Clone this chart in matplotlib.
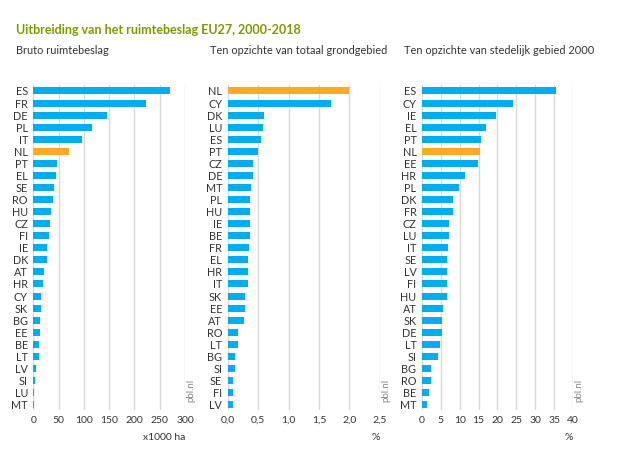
import matplotlib.pyplot as plt
from matplotlib.ticker import FuncFormatter

# Bruto ruimtebeslag (x1000 ha)
landen_bruto = ["ES", "FR", "DE", "PL", "IT", "NL", "PT", "EL", "SE", "RO", "HU", "CZ", "FI", "IE",
                "DK", "AT", "HR", "CY", "SK", "BG", "EE", "BE", "LT", "LV", "SI", "LU", "MT"]
bruto = [271, 223, 146, 116, 97, 70, 46, 44, 40, 38, 34.5, 33, 30, 26,
         26, 21.5, 19, 15.5, 14, 13.5, 12, 11.5, 10, 5.5, 2.3, 1.5, 0.3]

# Ten opzichte van totaal grondgebied (%)
landen_totaal = ["NL", "CY", "DK", "LU", "ES", "PT", "CZ", "DE", "MT", "PL", "HU", "IE", "BE", "FR",
                 "EL", "HR", "IT", "SK", "EE", "AT", "RO", "LT", "BG", "SI", "SE", "FI", "LV"]
totaal = [2.0, 1.70, 0.59, 0.585, 0.54, 0.50, 0.42, 0.41, 0.385, 0.37, 0.37, 0.37, 0.365, 0.35,
          0.335, 0.335, 0.33, 0.285, 0.28, 0.26, 0.165, 0.165, 0.12, 0.12, 0.093, 0.088, 0.088]

# Ten opzichte van stedelijk gebied 2000 (%)
landen_stedelijk = ["ES", "CY", "IE", "EL", "PT", "NL", "EE", "HR", "PL", "DK", "FR", "CZ", "LU", "IT",
                    "SE", "LV", "FI", "HU", "AT", "SK", "DE", "LT", "SI", "BG", "RO", "BE", "MT"]
stedelijk = [35.5, 24.2, 19.5, 16.9, 15.7, 15.4, 14.9, 11.4, 9.7, 8.2, 8.2, 7.15, 7.05, 7.0,
             6.6, 6.6, 6.6, 6.5, 5.5, 5.3, 5.2, 4.9, 4.3, 2.5, 2.5, 1.8, 1.2]

BLAUW = "#00aeef"
ORANJE = "#fbab22"
GRID = "#d9d9d9"
TEKST = "#333333"

plt.rcParams["font.family"] = ["Lato", "DejaVu Sans"]

fig = plt.figure(figsize=(6.39, 4.62), dpi=100)

panels = [
    (0.0524, 0.2371, landen_bruto, bruto, (0, 300), [0, 50, 100, 150, 200, 250, 300], "x1000 ha",
     "Bruto ruimtebeslag", lambda v, p: f"{v:.0f}"),
    (0.3563, 0.2383, landen_totaal, totaal, (0, 2.5), [0, 0.5, 1.0, 1.5, 2.0, 2.5], "%",
     "Ten opzichte van totaal grondgebied", lambda v, p: f"{v:.1f}".replace(".", ",")),
    (0.6604, 0.2363, landen_stedelijk, stedelijk, (0, 40), list(range(0, 45, 5)), "%",
     "Ten opzichte van stedelijk gebied 2000", lambda v, p: f"{v:.0f}"),
]

for left, width, landen, waarden, xlim, ticks, eenheid, subtitel, fmt in panels:
    ax = fig.add_axes([left, 0.1126, width, 0.7035])
    kleuren = [ORANJE if l == "NL" else BLAUW for l in landen]
    ax.barh(range(len(landen)), waarden, height=0.58, color=kleuren, zorder=3)
    ax.set_yticks(range(len(landen)))
    ax.set_yticklabels(landen)
    ax.set_ylim(26.45, -0.5)
    ax.set_xlim(*xlim)
    ax.set_xticks(ticks)
    ax.xaxis.set_major_formatter(FuncFormatter(fmt))
    ax.grid(axis="x", color=GRID, linewidth=1, zorder=0)
    for s in ax.spines.values():
        s.set_visible(False)
    ax.tick_params(length=0, labelsize=7.5, colors=TEKST)
    ax.tick_params(axis="y", pad=4, labelsize=7.8)
    ax.tick_params(axis="x", pad=4)
    ax.text(1.0, -0.085, eenheid, transform=ax.transAxes, ha="right", va="center",
            fontsize=7.5, color=TEKST)
    ax.text(1.04, 0.06, "pbl.nl", transform=ax.transAxes, rotation=90, ha="center",
            va="center", fontsize=7, color="#888888")
    fig.text(left - 0.028, 1 - 51 / 462, subtitel, ha="left", va="center", fontsize=7.9, color=TEKST)

fig.text(16 / 639, 1 - 30 / 462, "Uitbreiding van het ruimtebeslag EU27, 2000-2018",
         ha="left", va="center", fontsize=9, fontweight="bold", color="#7a9a01")

fig.savefig("out.png", dpi=100)
